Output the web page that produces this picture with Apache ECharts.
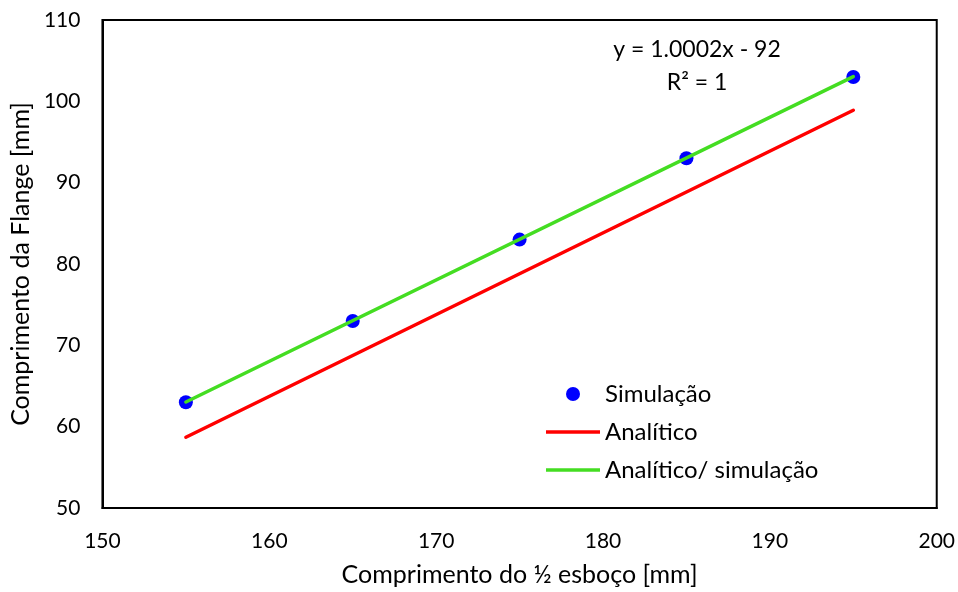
<!DOCTYPE html>
<html>
<head>
<meta charset="utf-8">
<script src="https://cdn.jsdelivr.net/npm/echarts@6/dist/echarts.min.js"></script>
<style>
  html, body { margin: 0; padding: 0; background: #fff; }
  #chart { width: 958px; height: 592px; }
</style>
</head>
<body>
<div id="chart"></div>
<script>
// Half-blank length (x) and flange length (y), in mm
const simX = [155, 165, 175, 185, 195];
const simY = [63, 73, 83, 93, 103];

// Analytical model, drawn between its two end points
const analX = [155, 195];
const analY = [58.7, 98.9];

// Linear fit through the simulation points: y = 1.0002x - 92
const fitSlope = 1.0002;
const fitIntercept = -92;
const fitX = [155, 195];

const xTicks = [150, 160, 170, 180, 190, 200];
const yTicks = [50, 60, 70, 80, 90, 100, 110];

const FONT = 'Lato';
const LINE_ICON = 'path://M0,0 H56 V3.5 H0 Z';

const chart = echarts.init(document.getElementById('chart'), null, { renderer: 'canvas' });

chart.setOption({
  backgroundColor: '#ffffff',
  animation: false,
  textStyle: { fontFamily: FONT },
  title: {
    text: 'y = 1.0002x - 92\nR² = 1',
    left: 692,
    top: 28,
    textAlign: 'center',
    textStyle: { fontFamily: FONT, fontSize: 23, fontWeight: 'normal', color: '#000', lineHeight: 33, align: 'center' }
  },
  legend: {
    orient: 'vertical',
    left: 541,
    top: 376,
    itemWidth: 54,
    itemHeight: 14,
    itemGap: 12,
    symbolKeepAspect: true,
    textStyle: { fontFamily: FONT, fontSize: 24, lineHeight: 26, color: '#000', padding: [0, 0, 0, 0] },
    data: [
      { name: 'Simulação', icon: 'circle' },
      { name: 'Analítico', icon: LINE_ICON },
      { name: 'Analítico/ simulação', icon: LINE_ICON }
    ]
  },
  grid: {
    left: 102, right: 21, top: 20, bottom: 82,
    show: true, borderColor: '#000', borderWidth: 2, backgroundColor: 'transparent'
  },
  xAxis: {
    type: 'value',
    min: xTicks[0], max: xTicks[xTicks.length - 1], interval: 10,
    name: 'Comprimento do ½ esboço [mm]',
    nameLocation: 'middle', nameGap: 54,
    nameTextStyle: { fontFamily: FONT, fontSize: 25, color: '#000' },
    axisLine: { show: true, lineStyle: { color: '#000', width: 2 } },
    axisTick: { show: false },
    splitLine: { show: false },
    axisLabel: { fontFamily: FONT, fontSize: 21, color: '#000', margin: 23 }
  },
  yAxis: {
    type: 'value',
    min: yTicks[0], max: yTicks[yTicks.length - 1], interval: 10,
    name: 'Comprimento da Flange [mm]',
    nameLocation: 'middle', nameGap: 62,
    nameTextStyle: { fontFamily: FONT, fontSize: 25, color: '#000' },
    axisLine: { show: true, lineStyle: { color: '#000', width: 2 } },
    axisTick: { show: false },
    splitLine: { show: false },
    axisLabel: { fontFamily: FONT, fontSize: 21, color: '#000', margin: 22 }
  },
  series: [
    {
      name: 'Analítico',
      type: 'line',
      data: analX.map((x, i) => [x, analY[i]]),
      showSymbol: false,
      symbol: 'none',
      lineStyle: { color: '#ff0000', width: 3.5, cap: 'round' },
      itemStyle: { color: '#ff0000' },
      z: 2
    },
    {
      name: 'Simulação',
      type: 'scatter',
      data: simX.map((x, i) => [x, simY[i]]),
      symbol: 'circle',
      symbolSize: 14,
      itemStyle: { color: '#0000ff', opacity: 1 },
      z: 3
    },
    {
      name: 'Analítico/ simulação',
      type: 'line',
      data: fitX.map(x => [x, fitSlope * x + fitIntercept]),
      showSymbol: false,
      symbol: 'none',
      lineStyle: { color: '#44dd22', width: 3.5, cap: 'round' },
      itemStyle: { color: '#44dd22' },
      z: 4
    }
  ]
});
</script>
</body>
</html>
